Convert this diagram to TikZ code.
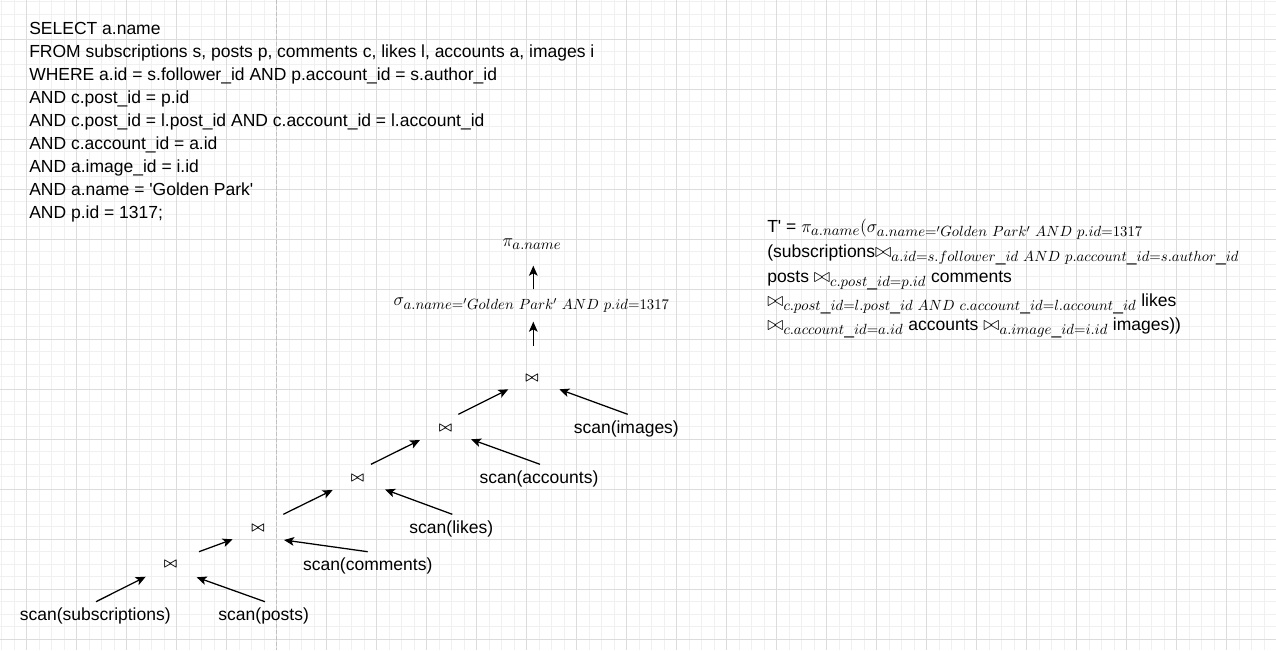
\RequirePackage{fix-cm}
\documentclass[tikz,border=0pt]{standalone}
\usepackage[no-math]{fontspec}
\setmainfont{Liberation Sans}[Ligatures=TeXOff]
\usetikzlibrary{arrows.meta}
\DeclareMathSizes{13.125}{13.4}{11.05}{8}
\definecolor{gminor}{HTML}{F0F0F0}
\definecolor{gmajor}{HTML}{DCDCDC}
\definecolor{gdash}{HTML}{C0C0C0}
\newcommand{\bjoin}{\mathrel{\hbox{\fontsize{15}{15}\selectfont$\bowtie$}}}
\begin{document}
\begin{tikzpicture}[x=0.75pt,y=-0.75pt,
  txt/.style={font=\fontsize{13.125}{15}\selectfont, inner sep=0pt},
  jn/.style={font=\fontsize{10.5}{12}\selectfont\boldmath, inner sep=0pt},
  conn/.style={line width=0.95pt, -{Stealth[length=7.5pt,width=6.5pt,inset=1.8pt]}},
  minorline/.style={gminor, line width=0.75pt},
  majorline/.style={gmajor, line width=0.75pt}]
\useasboundingbox (0,0) rectangle (1276,650);
\fill[white] (0,0) rectangle (1276,650);
% grid
\foreach \x in {1.5,14,...,1276} \draw[minorline] (\x,0) -- (\x,650);
\foreach \y in {1.8,14.3,...,650} \draw[minorline] (0,\y) -- (1276,\y);
\foreach \x in {26.5,76.5,...,1276} \draw[majorline] (\x,0) -- (\x,650);
\foreach \y in {39.3,89.3,...,650} \draw[majorline] (0,\y) -- (1276,\y);
\draw[gdash, line width=0.75pt, dash pattern=on 3pt off 1.5pt] (276.5,0) -- (276.5,650);

% SQL
\node[txt, anchor=base west] (q1) at (29,34) {SELECT a.name};
\node[txt, anchor=base west] (q2) at (29,57) {FROM subscriptions s, posts p, comments c, likes l, accounts a, images i};
\node[txt, anchor=base west] (q3) at (29,80) {WHERE a.id = s.follower\_id AND p.account\_id = s.author\_id};
\node[txt, anchor=base west] (q4) at (29,103) {AND c.post\_id = p.id};
\node[txt, anchor=base west] (q5) at (29,126) {AND c.post\_id = l.post\_id AND c.account\_id = l.account\_id};
\node[txt, anchor=base west] (q6) at (29,149) {AND c.account\_id = a.id};
\node[txt, anchor=base west] (q7) at (29,172) {AND a.image\_id = i.id};
\node[txt, anchor=base west] (q8) at (29,195) {AND a.name = 'Golden Park'};
\node[txt, anchor=base west] (q9) at (29,218) {AND p.id = 1317;};

% formula
\node[txt, anchor=base west] (f1) at (767,232.5) {T' = $\pi_{a.name}(\sigma_{a.name='Golden\ Park'\ AND\ p.id=1317}$};
\node[txt, anchor=base west] (f2) at (767,257.5) {(subscriptions$\bjoin_{a.id=s.follower\_id\ AND\ p.account\_id=s.author\_id}$};
\node[txt, anchor=base west] (f3) at (767,282.5) {posts $\bjoin_{c.post\_id=p.id}$ comments};
\node[txt, anchor=base west] (f4) at (767,306.5) {$\bjoin_{c.post\_id=l.post\_id\ AND\ c.account\_id=l.account\_id}$ likes};
\node[txt, anchor=base west] (f5) at (767,330.5) {$\bjoin_{c.account\_id=a.id}$ accounts $\bjoin_{a.image\_id=i.id}$ images))};

% tree
\node[txt, anchor=base] (pi) at (532,246.5) {$\pi_{a.name}$};
\node[txt, anchor=base] (sg) at (531.7,305) {$\sigma_{a.name='Golden\ Park'\ AND\ p.id=1317}$};
\node[jn] (j5) at (532,378) {$\bowtie$};
\node[jn] (j4) at (445.5,428) {$\bowtie$};
\node[jn] (j3) at (357.5,478) {$\bowtie$};
\node[jn] (j2) at (258,528) {$\bowtie$};
\node[jn] (j1) at (170.5,564) {$\bowtie$};
\node[txt] (simg) at (626.3,429) {scan(images)};
\node[txt] (sacc) at (539,479) {scan(accounts)};
\node[txt] (slik) at (451.3,529) {scan(likes)};
\node[txt] (scom) at (367.7,566) {scan(comments)};
\node[txt] (spos) at (263.7,615.5) {scan(posts)};
\node[txt] (ssub) at (95.3,615.5) {scan(subscriptions)};

% connector end points
\coordinate (a1t) at (96,601.7);    \coordinate (a1h) at (145.7,576.7);
\coordinate (a2t) at (265,601.7);   \coordinate (a2h) at (196.7,577.3);
\coordinate (a3t) at (199,551.7);   \coordinate (a3h) at (232.7,539.3);
\coordinate (a4t) at (367.7,551.7); \coordinate (a4h) at (284,540);
\coordinate (a5t) at (283.3,514.3); \coordinate (a5h) at (332.7,490);
\coordinate (a6t) at (452.3,514.3); \coordinate (a6h) at (385,489.5);
\coordinate (a7t) at (371,464.3);   \coordinate (a7h) at (420,440);
\coordinate (a8t) at (540,464.3);   \coordinate (a8h) at (471,439.3);
\coordinate (a9t) at (458.3,414.3); \coordinate (a9h) at (508.3,389.3);
\coordinate (a10t) at (627.7,414.3);\coordinate (a10h) at (559.3,389.3);
\coordinate (a11t) at (533.3,346);  \coordinate (a11h) at (533.3,321.7);
\coordinate (a12t) at (533.3,289.3);\coordinate (a12h) at (533.3,265.7);

\draw[conn] (a1t) -- (a1h);
\draw[conn] (a2t) -- (a2h);
\draw[conn] (a3t) -- (a3h);
\draw[conn] (a4t) -- (a4h);
\draw[conn] (a5t) -- (a5h);
\draw[conn] (a6t) -- (a6h);
\draw[conn] (a7t) -- (a7h);
\draw[conn] (a8t) -- (a8h);
\draw[conn] (a9t) -- (a9h);
\draw[conn] (a10t) -- (a10h);
\draw[conn] (a11t) -- (a11h);
\draw[conn] (a12t) -- (a12h);
\end{tikzpicture}
\end{document}
